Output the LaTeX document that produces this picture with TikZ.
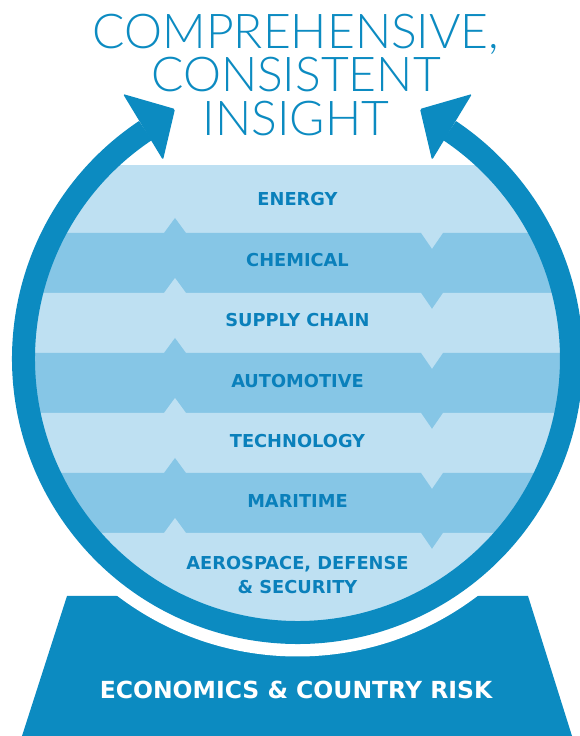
\documentclass[tikz,border=0pt]{standalone}
\usepackage{fontspec}
\setmainfont{DejaVu Sans}
\newfontfamily\titlefont{Lato Light}
\definecolor{ringblue}{RGB}{12,139,193}
\definecolor{bandlight}{RGB}{190,224,242}
\definecolor{bandmid}{RGB}{134,198,230}
\definecolor{textblue}{RGB}{10,128,187}
\begin{document}
\begin{tikzpicture}[x=1pt,y=1pt,
    bandtext/.style={text=textblue,align=center,font=\fontsize{17.8}{24}\selectfont\bfseries},
    titletext/.style={text=ringblue,align=center,font=\titlefont\fontsize{48}{43.5}\selectfont}]
    \useasboundingbox (0,0) rectangle (580,736);
    % base
    \fill[ringblue] (67,140) -- (528,140) -- (572,0) -- (22,0) -- cycle;
    \fill[white] (297.5,377.5) circle[radius=298pt];
    % bands
    \begin{scope}
      \clip (297.5,377.5) circle[radius=263pt];
      \fill[bandlight] (0,571) rectangle (600,0);
      \foreach \b [count=\i] in {503,443,383,323,263,203} {
        \ifodd\i \def\bandcol{bandmid}\else \def\bandcol{bandlight}\fi
        \fill[\bandcol] (0,\b) -- (164,\b) -- (175,\b+15) -- (186,\b) -- (421,\b)
          -- (432,\b-16) -- (443,\b) -- (600,\b) -- (600,0) -- (0,0) -- cycle;
      }
    \end{scope}
    % ring and arrows
    \draw[ringblue,line width=23pt] (297.5,377.5) ++(123.7:274pt)
      arc[start angle=123.7,end angle=416.3,radius=274pt];
    \fill[ringblue,rounded corners=1.5pt] (123,642) -- (175,627) -- (163,576) -- cycle;
    \fill[ringblue,rounded corners=1.5pt] (472,642) -- (420,627) -- (432,576) -- cycle;
    % labels
    \node[titletext] (title) at (296,661) {COMPREHENSIVE,\\CONSISTENT\\INSIGHT};
    \node[bandtext] (energy) at (297.5,537) {ENERGY};
    \node[bandtext] (chemical) at (297.5,476) {CHEMICAL};
    \node[bandtext] (supply) at (297.5,416) {SUPPLY CHAIN};
    \node[bandtext] (auto) at (297.5,355) {AUTOMOTIVE};
    \node[bandtext] (tech) at (297.5,295) {TECHNOLOGY};
    \node[bandtext] (maritime) at (297.5,235) {MARITIME};
    \node[bandtext] (aero) at (297.5,161) {AEROSPACE, DEFENSE\\\& SECURITY};
    \node[text=white,font=\fontsize{23.5}{28}\selectfont\bfseries] (econ) at (296,46) {ECONOMICS \& COUNTRY RISK};
  \end{tikzpicture}
\end{document}
